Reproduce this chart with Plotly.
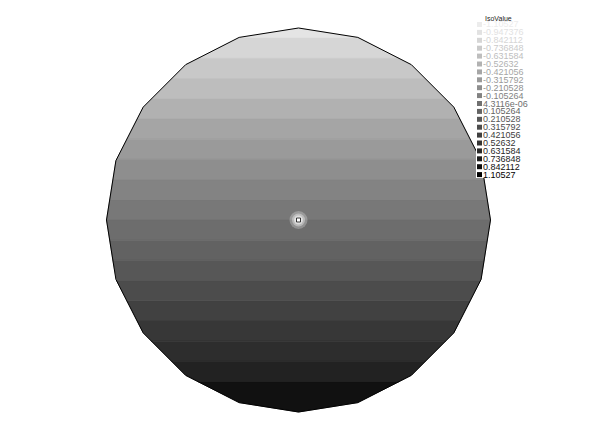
import numpy as np
import plotly.graph_objects as go

# ---- data ----
n_sides = 20
radius = 1.0
iso_levels = [-0.947376, -0.842112, -0.736848, -0.631584, -0.52632, -0.421056,
              -0.315792, -0.210528, -0.105264, 4.3116e-06, 0.105264, 0.210528,
              0.315792, 0.421056, 0.52632, 0.631584, 0.736848, 0.842112]
band_grays = [228, 214, 200, 189, 177, 165, 154, 142, 131, 120, 109, 98, 87,
              76, 65, 55, 45, 34, 17]
legend_labels = ["-1.10527", "-0.947376", "-0.842112", "-0.736848", "-0.631584",
                 "-0.52632", "-0.421056", "-0.315792", "-0.210528", "-0.105264",
                 "4.3116e-06", "0.105264", "0.210528", "0.315792", "0.421056",
                 "0.52632", "0.631584", "0.736848", "0.842112", "1.10527"]
legend_grays = [236, 226, 214, 202, 190, 178, 166, 154, 142, 130,
                112, 100, 88, 76, 64, 52, 40, 28, 14, 0]

W, H = 596, 421
cx_px, cy_px, scale = 298.5, 220.0, 192.0

ang = np.deg2rad(90 + 18 * np.arange(n_sides))
poly = list(zip(radius * np.cos(ang), radius * np.sin(ang)))


def clip(pts, yc, keep_above):
    out = []
    n = len(pts)
    for i in range(n):
        p, q = pts[i], pts[(i + 1) % n]
        pin = (p[1] >= yc) if keep_above else (p[1] <= yc)
        qin = (q[1] >= yc) if keep_above else (q[1] <= yc)
        if pin:
            out.append(p)
        if pin != qin:
            t = (yc - p[1]) / (q[1] - p[1])
            out.append((p[0] + t * (q[0] - p[0]), yc))
    return out


# field u = -y ; band edges in y
edges = [1.5] + [-lv for lv in iso_levels] + [-1.5]
fig = go.Figure()
for k in range(len(edges) - 1):
    y_hi, y_lo = edges[k], edges[k + 1]
    pts = clip(clip(poly, y_hi, False), y_lo, True)
    if len(pts) < 3:
        continue
    xs = [p[0] for p in pts] + [pts[0][0]]
    ys = [p[1] for p in pts] + [pts[0][1]]
    g = band_grays[k]
    fig.add_trace(go.Scatter(x=xs, y=ys, mode="lines", fill="toself",
                             fillcolor=f"rgb({g},{g},{g})",
                             line=dict(width=0.6, color=f"rgb({g},{g},{g})"),
                             hoverinfo="skip", showlegend=False))

# outline
fig.add_trace(go.Scatter(x=[p[0] for p in poly] + [poly[0][0]],
                         y=[p[1] for p in poly] + [poly[0][1]],
                         mode="lines", line=dict(color="black", width=1),
                         hoverinfo="skip", showlegend=False))

# center singular point with halo
for s, op in [(18, 0.25), (13, 0.35), (9, 0.5), (6, 0.7)]:
    fig.add_trace(go.Scatter(x=[0], y=[0], mode="markers",
                             marker=dict(size=s, color="white", opacity=op, line=dict(width=0)),
                             hoverinfo="skip", showlegend=False))
fig.add_trace(go.Scatter(x=[0], y=[0], mode="markers",
                         marker=dict(symbol="square", size=4, color="white",
                                     line=dict(color="#333", width=1)),
                         hoverinfo="skip", showlegend=False))

# legend box
shapes = [dict(type="rect", xref="paper", yref="paper",
               x0=476 / W, x1=545 / W, y0=1 - 178 / H, y1=1 - 10 / H,
               fillcolor="white", line=dict(width=0), layer="above")]
annotations = [dict(text="IsoValue", xref="paper", yref="paper",
                    x=483 / W, y=1 - 18 / H, xanchor="left", yanchor="middle",
                    showarrow=False, font=dict(family="Liberation Sans", size=7, color="#222"))]
y0_px, dy_px = 24.5, 7.9
for i, (lab, g) in enumerate(zip(legend_labels, legend_grays)):
    yc = y0_px + i * dy_px
    col = f"rgb({g},{g},{g})"
    shapes.append(dict(type="rect", xref="paper", yref="paper",
                       x0=477 / W, x1=482 / W, y0=1 - (yc + 2.5) / H, y1=1 - (yc - 2.5) / H,
                       fillcolor=col, line=dict(width=0), layer="above"))
    annotations.append(dict(text=lab, xref="paper", yref="paper",
                            x=482 / W, y=1 - yc / H, xanchor="left", yanchor="middle",
                            showarrow=False, borderpad=0,
                            font=dict(family="Liberation Sans", size=9, color=col)))

fig.update_layout(
    width=W, height=H, margin=dict(l=0, r=0, t=0, b=0),
    paper_bgcolor="white", plot_bgcolor="white",
    xaxis=dict(range=[-cx_px / scale, (W - cx_px) / scale], visible=False, fixedrange=True),
    yaxis=dict(range=[-(H - cy_px) / scale, cy_px / scale], visible=False, fixedrange=True),
    shapes=shapes, annotations=annotations, showlegend=False,
)
fig.write_html("out.html")
